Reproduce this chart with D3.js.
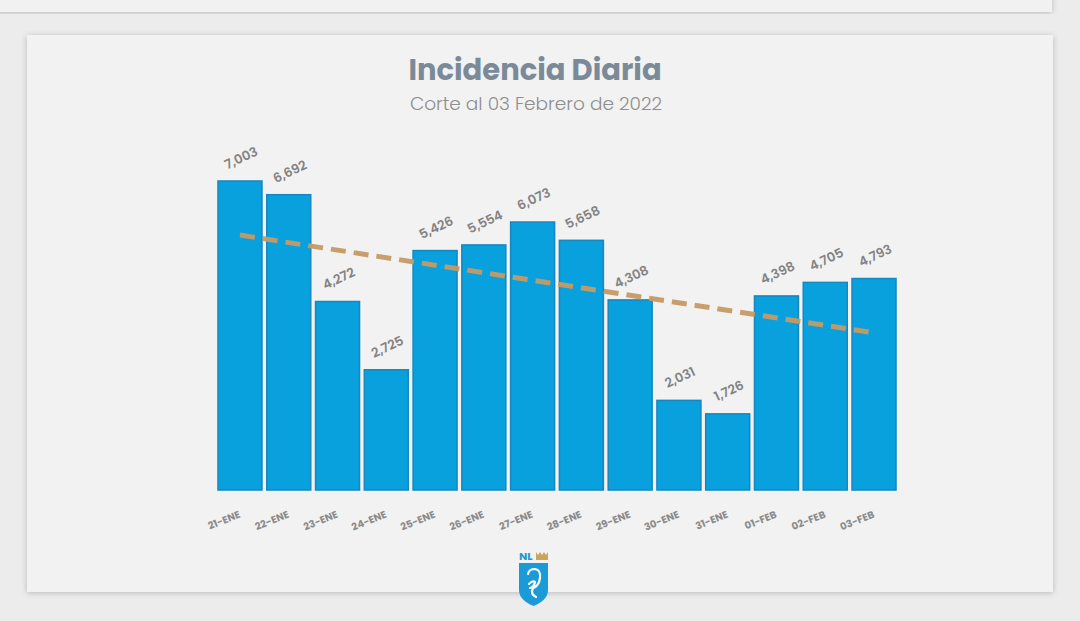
<!DOCTYPE html>
<html><head><meta charset="utf-8">
<script src="https://cdn.jsdelivr.net/npm/d3@7"></script>
<style>
html,body{margin:0;padding:0;background:#ebebeb;}
svg{display:block;}
</style></head>
<body>
<svg id="c" width="1080" height="621"></svg>
<script>
const categories = ["21-ENE","22-ENE","23-ENE","24-ENE","25-ENE","26-ENE","27-ENE","28-ENE","29-ENE","30-ENE","31-ENE","01-FEB","02-FEB","03-FEB"];
const values = [7003,6692,4272,2725,5426,5554,6073,5658,4308,2031,1726,4398,4705,4793];
const trendCategories = ["21-ENE","03-FEB"];
const trendValues = [5777,3561];
const title = "Incidencia Diaria";
const subtitle = "Corte al 03 Febrero de 2022";

const svg = d3.select("#c");
const defs = svg.append("defs");
const f = defs.append("filter").attr("id","sh").attr("x","-5%").attr("y","-5%").attr("width","110%").attr("height","110%");
f.append("feGaussianBlur").attr("in","SourceAlpha").attr("stdDeviation",3);
f.append("feOffset").attr("dx",0).attr("dy",1).attr("result","b");
f.append("feComponentTransfer").append("feFuncA").attr("type","linear").attr("slope",0.22);
const m = f.append("feMerge"); m.append("feMergeNode"); m.append("feMergeNode").attr("in","SourceGraphic");

svg.append("rect").attr("x",0).attr("y",0).attr("width",1080).attr("height",621).attr("fill","#ececec");
svg.append("rect").attr("x",-10).attr("y",-20).attr("width",1062).attr("height",32).attr("fill","#f1f1f1").attr("filter","url(#sh)");
svg.append("rect").attr("x",27).attr("y",35).attr("width",1026).attr("height",557).attr("fill","#f2f2f2").attr("filter","url(#sh)");

const x = d3.scaleBand().domain(categories).range([215.6, 898.4]).paddingInner(0.098).paddingOuter(0.049);
const y = d3.scaleLinear().domain([0, 8000]).range([490, 137]);

svg.append("text").attr("x",535).attr("y",80).attr("text-anchor","middle")
  .attr("font-family","Poppins, 'Open Sans', sans-serif").attr("font-weight",700).attr("font-size",29)
  .attr("fill","#7b8a98").text(title);
svg.append("text").attr("x",536).attr("y",110).attr("text-anchor","middle")
  .attr("font-family","Poppins, 'Open Sans', sans-serif").attr("font-weight",300).attr("font-size",18.5)
  .attr("fill","#8e8e8e").text(subtitle);

svg.append("g").selectAll("rect").data(values).join("rect")
  .attr("x",(d,i)=>x(categories[i]))
  .attr("y",d=>y(d))
  .attr("width",x.bandwidth())
  .attr("height",d=>y(0)-y(d))
  .attr("fill","#08a1de").attr("stroke","#1687bf").attr("stroke-width",1.5);

const line = d3.line().x(d=>x(d[0])+x.bandwidth()/2).y(d=>y(d[1]));
svg.append("path").datum(trendCategories.map((c,i)=>[c,trendValues[i]]))
  .attr("d",line).attr("fill","none").attr("stroke","#c59a64").attr("stroke-width",5)
  .attr("stroke-dasharray","15,8").attr("opacity",0.95);

const fmt = d3.format(",");
svg.append("g").selectAll("text").data(values).join("text")
  .attr("transform",(d,i)=>`translate(${x(categories[i])+x.bandwidth()/2+3},${y(d)-19}) rotate(-25)`)
  .attr("text-anchor","middle")
  .attr("font-family","Poppins, 'Open Sans', sans-serif").attr("font-weight",600).attr("font-size",13)
  .attr("fill","#838383").text(d=>fmt(d));

const xAxis = d3.axisBottom(x).tickSize(0).tickPadding(0);
const gx = svg.append("g").attr("transform","translate(0,490)").call(xAxis);
gx.select(".domain").remove();
gx.selectAll("text")
  .attr("transform","translate(1,27) rotate(-22)")
  .attr("text-anchor","end").attr("dy",0)
  .attr("font-family","Poppins, 'Open Sans', sans-serif").attr("font-weight",700).attr("font-size",10)
  .attr("fill","#8a8a8a");

const lg = svg.append("g").attr("transform","translate(533,560)");
lg.append("text").attr("x",-14).attr("y",0).attr("font-family","Poppins, 'Open Sans', sans-serif").attr("font-weight",700)
  .attr("font-size",11).attr("fill","#1a9ad6").text("NL");
lg.append("path").attr("d","M3,-8 L5,-5 L7,-8 L9,-5 L11,-8 L13,-5 L15,-8 L15,0 L3,0 Z").attr("fill","#c9a45c");
lg.append("path").attr("d","M-14,3 L15,3 L15,30 Q15,40 0.5,46 Q-14,40 -14,30 Z").attr("fill","#1a9ad6");
lg.append("path").attr("d","M-5,14 Q-4,9 2,9 Q8,10 7,18 Q6,26 0,28 Q-3,34 3,37 M-4,24 Q0,20 2,22 Q1,27 -3,28").attr("fill","none").attr("stroke","#ffffff").attr("stroke-width",2.2).attr("stroke-linecap","round");
</script>
</body></html>
